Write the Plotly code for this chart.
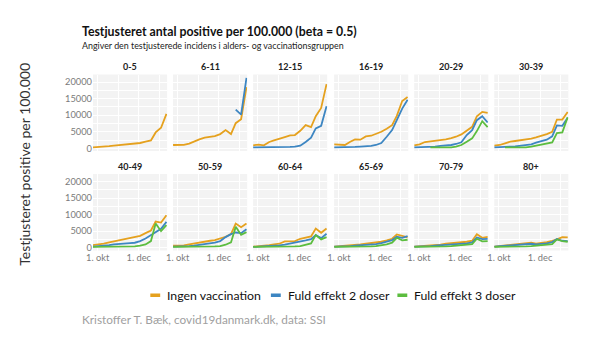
import plotly.graph_objects as go

dates = ["2021-09-24", "2021-10-02", "2021-10-10", "2021-10-18", "2021-10-25",
         "2021-11-02", "2021-11-10", "2021-11-18", "2021-11-25", "2021-12-03",
         "2021-12-11", "2021-12-19", "2021-12-26", "2022-01-03", "2022-01-11"]

groups = ["0-5", "6-11", "12-15", "16-19", "20-29", "30-39",
          "40-49", "50-59", "60-64", "65-69", "70-79", "80+"]

series_names = ["Ingen vaccination", "Fuld effekt 2 doser", "Fuld effekt 3 doser"]
N = None

ingen = {
    "0-5":   [300, 350, 400, 650, 800, 950, 1100, 1300, 1300, 1600, 2000, 2400, 4800, 6200, 10400],
    "6-11":  [1000, 950, 1050, 1400, 2100, 2700, 3200, 3500, 3700, 4300, 5500, 4300, 7600, 8800, 18500],
    "12-15": [900, 1100, 900, 1900, 2400, 2800, 3400, 3900, 4000, 5300, 7000, 6400, 9700, 12200, 19400],
    "16-19": [1200, 1100, 1000, 2000, 2700, 2600, 3600, 3800, 4300, 5000, 5900, 7000, 9800, 14300, 15500],
    "20-29": [900, 1200, 1900, 2100, 2200, 2500, 2700, 3100, 3500, 4200, 5300, 6500, 9700, 11000, 10700],
    "30-39": [800, 1000, 1500, 2000, 2200, 2400, 2700, 2900, 3300, 3700, 4300, 5000, 8700, 8700, 11000],
    "40-49": [800, 900, 1200, 1600, 1900, 2200, 2600, 2800, 3100, 3600, 4400, 5200, 7900, 7600, 9800],
    "50-59": [600, 600, 700, 1000, 1300, 1500, 1800, 2100, 2300, 2700, 3300, 4100, 7300, 6200, 7300],
    "60-64": [300, 400, 600, 800, 1000, 1200, 1900, 2000, 2000, 2700, 3000, 3400, 5800, 4500, 5800],
    "65-69": [300, 400, 500, 700, 900, 1000, 1200, 1400, 1500, 1800, 2200, 2700, 4000, 3600, 3100],
    "70-79": [300, 400, 500, 600, 700, 900, 1200, 1300, 1400, 1600, 1800, 2100, 4100, 3000, 3300],
    "80+":   [300, 500, 700, 800, 900, 1100, 1300, 1500, 1200, 1400, 1700, 2100, 2500, 3200, 3100],
}

dosis2 = {
    "0-5":   [N] * 15,
    "6-11":  [N, N, N, N, N, N, N, N, N, N, N, N, 11700, 10200, 21300],
    "12-15": [250, 250, 250, 250, 300, 300, 350, 400, 500, 800, 1900, 3200, 6000, 6800, 12700],
    "16-19": [250, 250, 250, 300, 400, 500, 500, 700, 1000, 1600, 3500, 5500, 8500, 12000, 14700],
    "20-29": [300, 300, 400, 400, 500, 700, 800, 1000, 1300, 1800, 4000, 5500, 8500, 9700, 7800],
    "30-39": [300, 300, 400, 500, 600, 800, 1000, 1200, 1700, 2200, 2600, 3600, 6900, 6800, 9200],
    "40-49": [300, 400, 600, 800, 1000, 1200, 1300, 1400, 1500, 2000, 2800, 3800, 4800, 5700, 7800],
    "50-59": [300, 300, 400, 500, 600, 800, 900, 1200, 1500, 2000, 3200, 4100, 4600, 4400, 5600],
    "60-64": [250, 300, 400, 500, 600, 700, 900, 1200, 1500, 1800, 2200, 2600, 3800, 2900, 4200],
    "65-69": [300, 300, 400, 500, 600, 700, 800, 900, 1100, 1400, 1800, 2300, 3300, 3000, 3500],
    "70-79": [300, 300, 400, 500, 600, 700, 800, 900, 1000, 1100, 1300, 1600, 3100, 2600, 2700],
    "80+":   [300, 400, 500, 600, 800, 900, 1000, 1200, 1000, 1100, 1300, 1700, 2600, 2100, 2000],
}

dosis3 = {
    "0-5":   [N] * 15,
    "6-11":  [N] * 15,
    "12-15": [N] * 15,
    "16-19": [N] * 15,
    "20-29": [N, N, N, 250, 250, 250, 250, 300, 500, 1000, 2000, 3000, 5200, 8200, 6400],
    "30-39": [N, N, 250, 250, 250, 300, 300, 500, 800, 1100, 1300, 1800, 4600, 4800, 9400],
    "40-49": [250, 250, 250, 250, 300, 300, 300, 400, 400, 600, 1000, 2000, 7300, 5000, 6800],
    "50-59": [250, 250, 250, 250, 250, 250, 300, 300, 400, 500, 900, 1600, 6300, 3900, 4700],
    "60-64": [250, 250, 250, 250, 250, 250, 300, 300, 400, 500, 800, 1300, 3800, 2500, 3200],
    "65-69": [250, 250, 250, 250, 250, 300, 300, 400, 500, 700, 1000, 1500, 3000, 2200, 2400],
    "70-79": [250, 250, 250, 250, 300, 300, 400, 500, 600, 700, 900, 1100, 2700, 1900, 2000],
    "80+":   [250, 250, 250, 300, 300, 400, 400, 500, 600, 700, 900, 1100, 2500, 2000, 1800],
}

y_ticks = [0, 5000, 10000, 15000, 20000]
x_tickvals = ["2021-10-01", "2021-12-01"]
x_ticktext = ["1. okt", "1. dec"]
x_minor = ["2021-11-01", "2022-01-01"]

colors = ["#E5A11E", "#3D86C2", "#5CBD3F"]
series_data = [ingen, dosis2, dosis3]

W, H = 600, 338
FONT = "Lato"
panel_left = [87, 168, 249, 331, 412, 493]
panel_w = 75
row_top = [75, 175]
panel_h = 77
bg = "#F3F3F3"

fig = go.Figure()
layout = {}
annotations = []

for k, g in enumerate(groups):
    r, c = divmod(k, 6)
    idx = k + 1
    xa = "x" if idx == 1 else f"x{idx}"
    ya = "y" if idx == 1 else f"y{idx}"
    for s in range(3):
        vals = series_data[s][g]
        fig.add_trace(go.Scatter(
            x=dates, y=vals, mode="lines", xaxis=xa, yaxis=ya,
            line=dict(color=colors[s], width=1.8), name=series_names[s],
            showlegend=False, connectgaps=False, hoverinfo="skip"))
    x0 = panel_left[c] / W
    x1 = (panel_left[c] + panel_w) / W
    y1 = 1 - row_top[r] / H
    y0 = 1 - (row_top[r] + panel_h) / H
    kx = "xaxis" if idx == 1 else f"xaxis{idx}"
    ky = "yaxis" if idx == 1 else f"yaxis{idx}"
    layout[kx] = dict(
        domain=[x0, x1], anchor=ya, range=["2021-09-24", "2022-01-12"],
        tickmode="array", tickvals=x_tickvals, ticktext=x_ticktext,
        showticklabels=(r == 1), showgrid=True, gridcolor="white", gridwidth=1,
        minor=dict(tickmode="array", tickvals=x_minor, showgrid=True,
                   gridcolor="white", gridwidth=0.5),
        zeroline=False, showline=False, ticks="",
        tickfont=dict(family=FONT, size=9.3, color="#7a7a7a"))
    layout[ky] = dict(
        domain=[y0, y1], anchor=xa, range=[-850, 22300],
        tickmode="array", tickvals=y_ticks, ticktext=[str(v) for v in y_ticks],
        showticklabels=(c == 0), showgrid=True, gridcolor="white", gridwidth=1,
        minor=dict(tickmode="array", tickvals=[2500, 7500, 12500, 17500],
                   showgrid=True, gridcolor="white", gridwidth=0.5),
        zeroline=False, showline=False, ticks="",
        tickfont=dict(family=FONT, size=9.3, color="#7a7a7a"))
    fig.add_shape(type="rect", xref="paper", yref="paper", x0=x0, x1=x1, y0=y0, y1=y1,
                  fillcolor=bg, line=dict(width=0), layer="below")
    annotations.append(dict(
        text=f"<b>{g}</b>", x=(x0 + x1) / 2, y=1 - (row_top[r] - 8) / H,
        xref="paper", yref="paper", showarrow=False, xanchor="center", yanchor="middle",
        font=dict(family=FONT, size=9, color="#222")))

# Title, subtitle, axis title, caption
annotations += [
    dict(text="<b>Testjusteret antal positive per 100.000 (beta = 0.5)</b>",
         x=74 / W, y=1 - 32 / H, xref="paper", yref="paper", showarrow=False,
         xanchor="left", yanchor="middle", font=dict(family=FONT, size=12.3, color="#111")),
    dict(text="Angiver den testjusterede incidens i alders- og vaccinationsgruppen",
         x=74 / W, y=1 - 46 / H, xref="paper", yref="paper", showarrow=False,
         xanchor="left", yanchor="middle", font=dict(family=FONT, size=8.9, color="#222")),
    dict(text="Testjusteret positive per 100.000", textangle=-90,
         x=17 / W, y=1 - 165 / H, xref="paper", yref="paper", showarrow=False,
         xanchor="center", yanchor="middle", font=dict(family=FONT, size=14, color="#333")),
    dict(text="Kristoffer T. Bæk, covid19danmark.dk, data: SSI",
         x=74 / W, y=1 - 321 / H, xref="paper", yref="paper", showarrow=False,
         xanchor="left", yanchor="middle", font=dict(family=FONT, size=11.8, color="#a0a0a0")),
]

# Legend (manual, short swatches as in reference)
leg_swatch_x = [145, 267, 395]
for s in range(3):
    fig.add_shape(type="line", xref="paper", yref="paper",
                  x0=leg_swatch_x[s] / W, x1=(leg_swatch_x[s] + 10) / W,
                  y0=1 - 297 / H, y1=1 - 297 / H,
                  line=dict(color=colors[s], width=3.5))
    annotations.append(dict(
        text=series_names[s], x=(leg_swatch_x[s] + 15) / W, y=1 - 297 / H,
        xref="paper", yref="paper", showarrow=False, xanchor="left", yanchor="middle",
        font=dict(family=FONT, size=12.3, color="#111")))

fig.update_layout(
    width=W, height=H, margin=dict(l=0, r=0, t=0, b=0),
    paper_bgcolor="white", plot_bgcolor="rgba(0,0,0,0)",
    showlegend=False, annotations=annotations, font=dict(family=FONT),
    **layout)

fig.write_html("out.html")
